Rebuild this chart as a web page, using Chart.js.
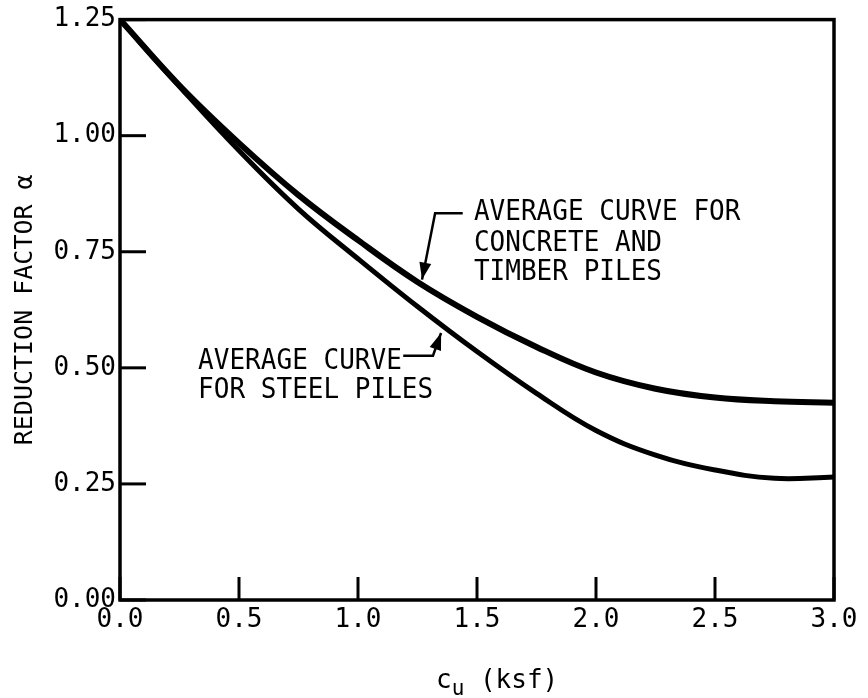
<!DOCTYPE html>
<html>
<head>
<meta charset="utf-8">
<script src="https://cdn.jsdelivr.net/npm/chart.js@4.4.0/dist/chart.umd.min.js"></script>
<style>
  html, body { margin: 0; padding: 0; background: #fff; }
  #wrap { width: 868px; height: 698px; }
</style>
</head>
<body>
<div id="wrap"><canvas id="myChart" width="868" height="698"></canvas></div>
<script>
// c_u (ksf) sample points
let cuValues = [0, 0.25, 0.5, 0.75, 1.0, 1.25, 1.5, 1.75, 2.0, 2.25, 2.5, 2.75, 3.0];
let concreteTimber = [1.25, 1.108, 0.984, 0.872, 0.775, 0.685, 0.61, 0.545, 0.49, 0.455, 0.436, 0.428, 0.425];
let steelPiles = [1.25, 1.106, 0.968, 0.842, 0.735, 0.632, 0.535, 0.445, 0.365, 0.312, 0.28, 0.262, 0.265];
let xTicks = [0, 0.5, 1.0, 1.5, 2.0, 2.5, 3.0];
let yTicks = [0, 0.25, 0.5, 0.75, 1.0, 1.25];

let mono = "'DejaVu Sans Mono', 'Liberation Mono', monospace";

function toPoints(ys) {
    return cuValues.map((x, i) => ({ x: x, y: ys[i] }));
}

function arrow(ctx, pts) {
    ctx.beginPath();
    ctx.moveTo(pts[0][0], pts[0][1]);
    for (let i = 1; i < pts.length; i++) ctx.lineTo(pts[i][0], pts[i][1]);
    ctx.stroke();
    let a = pts[pts.length - 2], b = pts[pts.length - 1];
    let ang = Math.atan2(b[1] - a[1], b[0] - a[0]);
    let len = 17, w = 6;
    ctx.beginPath();
    ctx.moveTo(b[0], b[1]);
    ctx.lineTo(b[0] - len * Math.cos(ang) + w * Math.sin(ang), b[1] - len * Math.sin(ang) - w * Math.cos(ang));
    ctx.lineTo(b[0] - len * Math.cos(ang) - w * Math.sin(ang), b[1] - len * Math.sin(ang) + w * Math.cos(ang));
    ctx.closePath();
    ctx.fill();
}

// condensed typewriter-looking text
function label(ctx, text, x, y) {
    ctx.save();
    ctx.translate(x, y);
    ctx.scale(0.93, 1);
    ctx.fillText(text, 0, 0);
    ctx.restore();
}

// frame, inward ticks, labels with arrows, x title
let extras = {
    id: 'extras',
    afterDraw(chart) {
        let ctx = chart.ctx;
        let xs = chart.scales.x, ys = chart.scales.y;
        let a = chart.chartArea;
        let px = v => xs.getPixelForValue(v);
        let py = v => ys.getPixelForValue(v);
        ctx.save();
        ctx.strokeStyle = '#000';
        ctx.fillStyle = '#000';
        ctx.lineWidth = 3.5;
        ctx.strokeRect(a.left, a.top, a.right - a.left, a.bottom - a.top);

        ctx.lineWidth = 3;
        xTicks.forEach(v => {
            ctx.beginPath();
            ctx.moveTo(px(v), a.bottom);
            ctx.lineTo(px(v), a.bottom - 23);
            ctx.stroke();
        });
        yTicks.forEach(v => {
            ctx.beginPath();
            ctx.moveTo(a.left, py(v));
            ctx.lineTo(a.left + 26, py(v));
            ctx.stroke();
        });

        // annotations
        ctx.font = '28px ' + mono;
        ctx.textAlign = 'left';
        ctx.textBaseline = 'alphabetic';
        let cLines = ['AVERAGE CURVE FOR', 'CONCRETE AND', 'TIMBER PILES'];
        let cBase = [0.818, 0.752, 0.689];
        cLines.forEach((t, i) => label(ctx, t, px(1.487), py(cBase[i])));
        let sLines = ['AVERAGE CURVE', 'FOR STEEL PILES'];
        let sBase = [0.498, 0.436];
        sLines.forEach((t, i) => label(ctx, t, px(0.328), py(sBase[i])));

        ctx.lineWidth = 2.5;
        arrow(ctx, [[px(1.44), py(0.833)], [px(1.324), py(0.833)], [px(1.269), py(0.69)]]);
        arrow(ctx, [[px(1.19), py(0.526)], [px(1.315), py(0.526)], [px(1.349), py(0.575)]]);

        // x axis title c_u (ksf)
        let base = 688;
        let x0 = 436;
        ctx.font = '26px ' + mono;
        ctx.fillText('c', x0, base);
        let cw = ctx.measureText('c').width;
        ctx.font = '21px ' + mono;
        ctx.fillText('u', x0 + cw, base + 7);
        let uw = ctx.measureText('u').width;
        ctx.font = '26px ' + mono;
        ctx.fillText(' (ksf)', x0 + cw + uw, base);
        ctx.restore();
    }
};

let ctx = document.getElementById('myChart').getContext('2d');

let chart = new Chart(ctx, {
    type: 'line',
    data: {
        datasets: [{
            label: 'Concrete and timber piles',
            data: toPoints(concreteTimber),
            borderColor: '#000',
            borderWidth: 6,
            pointRadius: 0,
            tension: 0.4,
            fill: false
        }, {
            label: 'Steel piles',
            data: toPoints(steelPiles),
            borderColor: '#000',
            borderWidth: 5,
            pointRadius: 0,
            tension: 0.4,
            fill: false
        }]
    },
    options: {
        responsive: false,
        animation: false,
        layout: { padding: { top: 18, right: 34, left: 0, bottom: 0 } },
        plugins: {
            legend: { display: false },
            tooltip: { enabled: false }
        },
        scales: {
            x: {
                type: 'linear',
                min: 0,
                max: 3,
                afterBuildTicks: s => { s.ticks = xTicks.map(v => ({ value: v })); },
                afterFit: s => { s.height = 98; },
                grid: { display: false, drawTicks: false },
                border: { display: false },
                ticks: {
                    color: '#000',
                    padding: 5,
                    font: { family: mono, size: 26 },
                    maxRotation: 0,
                    callback: v => Number(v).toFixed(1)
                }
            },
            y: {
                type: 'linear',
                min: 0,
                max: 1.25,
                afterBuildTicks: s => { s.ticks = yTicks.map(v => ({ value: v })); },
                afterFit: s => { s.width = 120; },
                grid: { display: false, drawTicks: false },
                border: { display: false },
                title: {
                    display: true,
                    text: 'REDUCTION FACTOR α',
                    color: '#000',
                    font: { family: mono, size: 25 },
                    padding: { top: 10, bottom: 0 }
                },
                ticks: {
                    color: '#000',
                    padding: 4,
                    font: { family: mono, size: 26 },
                    callback: v => Number(v).toFixed(2)
                }
            }
        }
    },
    plugins: [extras]
});
</script>
</body>
</html>
